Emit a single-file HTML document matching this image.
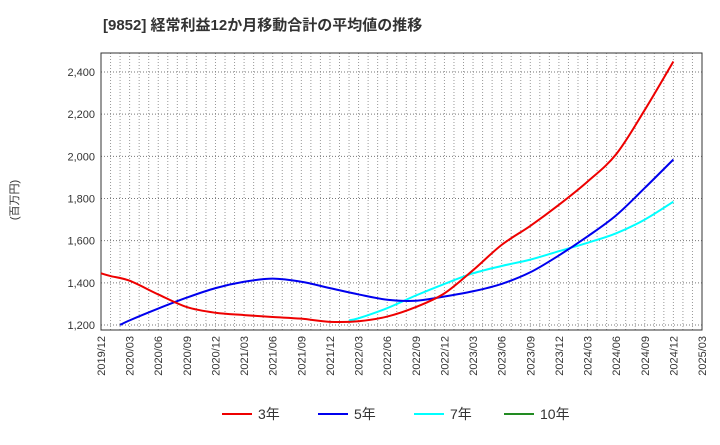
<!DOCTYPE html>
<html><head><meta charset="utf-8"><style>
body{margin:0;background:#fff;}
text{font-family:"Liberation Sans","Noto Sans CJK JP",sans-serif;}
</style></head><body>
<svg id="c" width="720" height="440" xmlns="http://www.w3.org/2000/svg">
<text x="103" y="30" font-size="15" font-weight="bold" fill="#333">[9852]  経常利益12か月移動合計の平均値の推移</text>
<text transform="translate(18,200) rotate(-90)" font-size="11" fill="#333" text-anchor="middle">(百万円)</text>
<g id="grid"></g><g id="axes"></g><g id="series"></g><g id="legend"></g>
</svg>
<script>
const xTickLabels=["2019/12","2020/03","2020/06","2020/09","2020/12","2021/03","2021/06","2021/09","2021/12","2022/03","2022/06","2022/09","2022/12","2023/03","2023/06","2023/09","2023/12","2024/03","2024/06","2024/09","2024/12","2025/03"];
const yTicks=[1200,1400,1600,2000,1800,2200,2400];
// series: [monthIndex from 2019/12, value]
const s3=[[0,1445],[1,1432],[3,1410],[6,1345],[9,1285],[12,1258],[15,1247],[18,1238],[21,1230],[24,1215],[27,1218],[30,1240],[33,1285],[36,1350],[39,1460],[42,1580],[45,1670],[48,1770],[51,1880],[54,2010],[57,2220],[60,2450]];
const s5=[[2,1200],[3,1222],[6,1278],[9,1330],[12,1375],[15,1405],[18,1420],[21,1405],[24,1375],[27,1345],[30,1320],[33,1315],[36,1335],[39,1360],[42,1395],[45,1450],[48,1530],[51,1620],[54,1720],[57,1850],[60,1985]];
const s7=[[26,1222],[27,1232],[30,1280],[33,1340],[36,1395],[39,1445],[42,1480],[45,1510],[48,1550],[51,1590],[54,1635],[57,1700],[60,1785]];
const s10=[];
const L=101,R=702,T=53,B=330;
const xM=m=>L+m*(R-L)/63;
const yV=v=>325-(v-1200)*(325-72)/1200;
const NS="http://www.w3.org/2000/svg";
function mk(tag,attrs,parent){const e=document.createElementNS(NS,tag);for(const k in attrs)e.setAttribute(k,attrs[k]);parent.appendChild(e);return e;}
const grid=document.getElementById('grid'),axes=document.getElementById('axes'),ser=document.getElementById('series'),leg=document.getElementById('legend');
for(let m=1;m<63;m++){const g=mk('line',{x1:xM(m),x2:xM(m),y1:T,y2:B,stroke:'#999','stroke-dasharray':'1,2','stroke-width':1},grid);}
yTicks.forEach(v=>{const g=mk('line',{x1:L,x2:R,y1:yV(v),y2:yV(v),stroke:'#777','stroke-dasharray':'1,2'},grid);
const t=mk('text',{x:L-6,y:yV(v)+4,'font-size':11,'text-anchor':'end',fill:'#333'},axes);t.textContent=v.toLocaleString('en-US');});
const fr=mk('rect',{x:L,y:T,width:R-L,height:B-T,fill:'none',stroke:'#333'},axes);
xTickLabels.forEach((s,i)=>{const x=xM(i*3);const t=mk('text',{transform:`translate(${x+4},${B+6}) rotate(-90)`,'font-size':11,'text-anchor':'end',fill:'#333'},axes);t.textContent=s;});
function path(pts){if(!pts.length)return'';const P=pts.map(p=>[xM(p[0]),yV(p[1])]);let d=`M${P[0][0]},${P[0][1]}`;for(let i=0;i<P.length-1;i++){const p0=P[Math.max(0,i-1)],p1=P[i],p2=P[i+1],p3=P[Math.min(P.length-1,i+2)];d+=` C${p1[0]+(p2[0]-p0[0])/6},${p1[1]+(p2[1]-p0[1])/6} ${p2[0]-(p3[0]-p1[0])/6},${p2[1]-(p3[1]-p1[1])/6} ${p2[0]},${p2[1]}`;}return d;}
const defs=[[s10,'#228b22','line-10y','10年'],[s7,'#00ffff','line-7y','7年'],[s5,'#0000ee','line-5y','5年'],[s3,'#ee0000','line-3y','3年']];
defs.forEach(([d,c,n])=>{if(!d.length)return;const p=mk('path',{d:path(d),fill:'none',stroke:c,'stroke-width':2},ser);});
const lx=[222,318,414,504];
[[ '#ee0000','3年'],['#0000ee','5年'],['#00ffff','7年'],['#228b22','10年']].forEach(([c,l],i)=>{const g=mk('g',{},leg);
mk('line',{x1:lx[i],x2:lx[i]+30,y1:414,y2:414,stroke:c,'stroke-width':2},g);const t=mk('text',{x:lx[i]+36,y:419,'font-size':14,fill:'#333'},g);t.textContent=l;});
</script>
</body></html>
